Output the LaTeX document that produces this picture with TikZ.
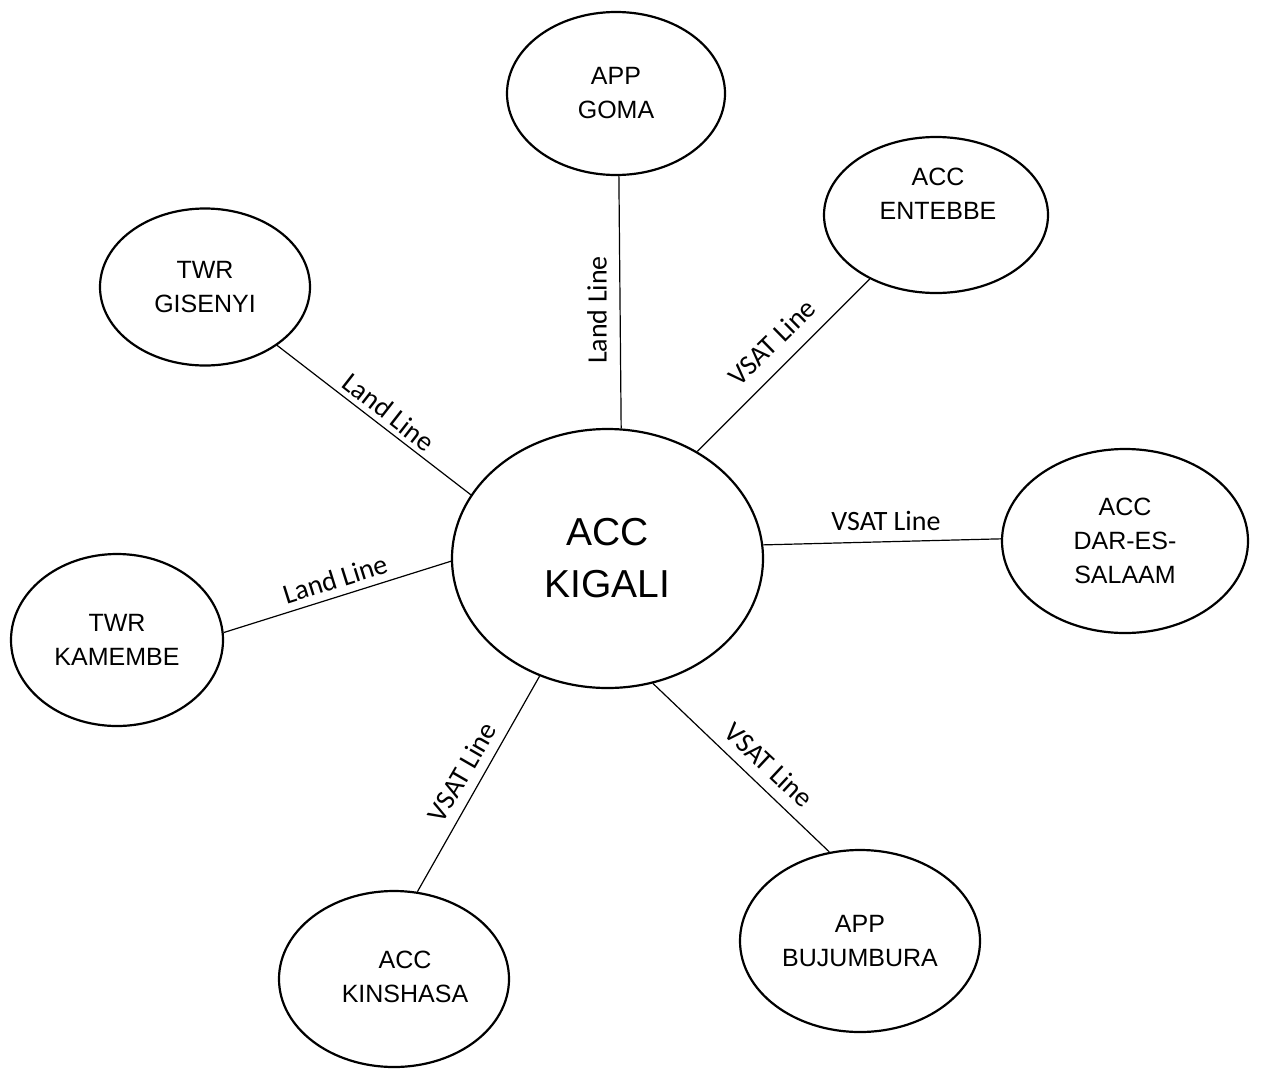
\documentclass[tikz,border=0pt]{standalone}
\usepackage{fontspec}
\setmainfont{Liberation Sans}
\newfontfamily\lblfont{Carlito}
\usetikzlibrary{shapes.geometric}
\tikzset{
  stntext/.style={align=center, inner sep=0pt, font=\fontsize{25}{34}\selectfont},
  stn/.style={ellipse, draw=black, line width=2.2pt, inner sep=0pt, align=center,
    font=\fontsize{25}{34}\selectfont},
  hub/.style={stn, font=\fontsize{39}{52}\selectfont},
  link/.style={draw=black, line width=1.2pt},
  lbl/.style={font=\lblfont\fontsize{28}{30}\selectfont, inner sep=0pt}
}
\begin{document}
\begin{tikzpicture}[x=1pt,y=-1pt]
\useasboundingbox (0,0) rectangle (1266,1071);
\node[hub, minimum width=311pt, minimum height=259pt] (kigali) at (607.5,558.5) {ACC\\KIGALI};
\node[stn, minimum width=218pt, minimum height=163pt] (goma) at (616,93.5) {APP\\GOMA};
\node[stn, minimum width=224pt, minimum height=156pt] (entebbe) at (936,215) {};
\node[stntext] (entebbetext) at (938,194) {ACC\\ENTEBBE};
\node[stn, minimum width=210pt, minimum height=157pt] (gisenyi) at (205,287) {TWR\\GISENYI};
\node[stn, minimum width=246pt, minimum height=184pt] (dar) at (1125,541) {ACC\\DAR-ES-\\SALAAM};
\node[stn, minimum width=212pt, minimum height=172pt] (kamembe) at (117,640) {TWR\\KAMEMBE};
\node[stn, minimum width=230pt, minimum height=176pt] (kinshasa) at (394,979) {};
\node[stntext] (kinshasatext) at (405,977) {ACC\\KINSHASA};
\node[stn, minimum width=240pt, minimum height=182pt] (bujumbura) at (860,941) {APP\\BUJUMBURA};

\draw[link] (kigali.84) -- (goma.272);
\draw[link] (kigali.50) -- (entebbe.224);
\draw[link] (kigali.155) -- (gisenyi.321);
\draw[link] (kigali.5) -- (dar.179);
\draw[link] (kigali.181) -- (kamembe.4);
\draw[link] (kigali.240) -- (kinshasa.75);
\draw[link] (kigali.290) -- (bujumbura.109);

\node[lbl, rotate=90] (lgoma) at (597,310) {Land Line};
\node[lbl, rotate=44.5] (lentebbe) at (772,342) {VSAT Line};
\node[lbl, rotate=-38] (lgisenyi) at (389,412) {Land Line};
\node[lbl] (ldar) at (886,521) {VSAT Line};
\node[lbl, rotate=17.5] (lkamembe) at (335,579) {Land Line};
\node[lbl, rotate=60] (lkinshasa) at (462,772) {VSAT Line};
\node[lbl, rotate=-43] (lbujumbura) at (769,765) {VSAT Line};
\end{tikzpicture}
\end{document}
